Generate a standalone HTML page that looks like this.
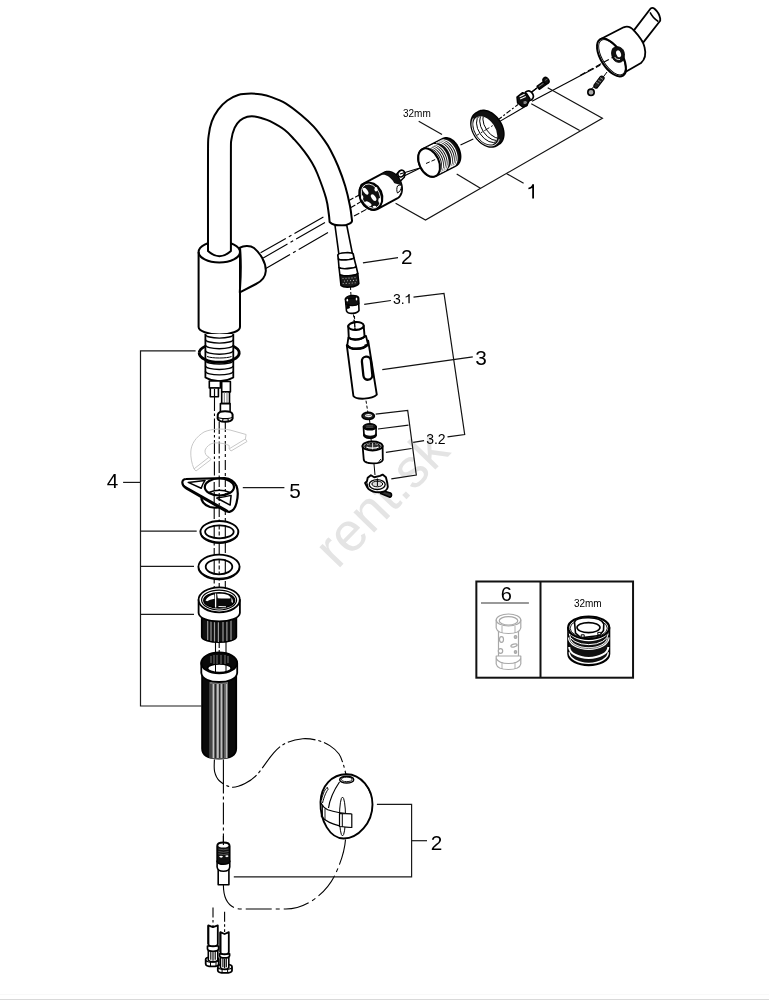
<!DOCTYPE html>
<html><head><meta charset="utf-8">
<style>
html,body{margin:0;padding:0;background:#fff;}
body{width:769px;height:1000px;overflow:hidden;position:relative;}
svg{position:absolute;left:0;top:0;will-change:transform;}
text{font-family:"Liberation Sans",sans-serif;}
</style></head><body>
<svg width="769" height="1000" viewBox="0 0 769 1000">
<g id="wm">
<text x="0" y="0" transform="translate(337.6,570) rotate(-45.8)" font-size="54.5" fill="#e4e4e4">rent.sk</text>
</g>
<rect x="0" y="999" width="769" height="1" fill="#d9d9d9"/>
<rect x="0" y="994" width="769" height="1" fill="#f9f9f9"/>

<!-- ============ BODY ============ -->
<g fill="#fff" stroke="#000" stroke-width="2" stroke-linejoin="round">
<path d="M198.6,252 L198.6,327 C198.6,331 208,334.5 219.3,334.5 C231,334.5 240,331 240,327 L240,252 A20.7,10.5 0 0 0 198.6,252 Z"/>
<path fill="none" d="M198.6,252 A20.7,10.5 0 0 0 240,252"/>
<path d="M240,247.6 C243,246 250,245 254,248 C260,253 266,262 265.8,271 C265.5,277 262,281 256,284 L239.8,292.4 C240,285 242,270 240,247.6 Z"/>
</g>
<!-- GEN_SPOUT_START -->
<path d="M208,251 L208,240 C208.00,225.83 207.90,172.33 208.00,155.00 C208.10,137.67 207.97,141.60 208.60,136.00 C209.23,130.40 210.20,125.80 211.80,121.40 C213.40,117.00 215.62,113.08 218.20,109.60 C220.78,106.12 223.97,102.93 227.30,100.50 C230.63,98.07 234.25,96.15 238.20,95.00 C242.15,93.85 247.05,93.67 251.00,93.60 C254.95,93.53 258.73,94.10 261.90,94.60 C265.07,95.10 266.05,95.15 270.00,96.60 C273.95,98.05 280.40,100.23 285.60,103.30 C290.80,106.37 296.52,111.10 301.20,115.00 C305.88,118.90 309.80,122.42 313.70,126.70 C317.60,130.98 321.82,136.82 324.60,140.70 C327.38,144.58 328.17,145.78 330.40,150.00 C332.63,154.22 335.53,160.00 338.00,166.00 C340.47,172.00 343.20,179.33 345.20,186.00 C347.20,192.67 348.87,200.27 350.00,206.00 C351.13,211.73 351.67,218.00 352.00,220.40 C352.3,223 347,225.6 342,225.6 C337,225.6 332,224.5 329.6,222 L329.6,222 C329.47,220.67 329.40,218.00 328.80,214.00 C328.20,210.00 327.92,204.75 326.00,198.00 C324.08,191.25 319.73,179.53 317.30,173.50 C314.87,167.47 313.57,165.48 311.40,161.80 C309.23,158.12 307.12,155.08 304.30,151.40 C301.48,147.72 297.76,143.27 294.50,139.70 C291.24,136.13 288.83,133.08 284.75,130.00 C280.67,126.92 273.81,123.17 270.00,121.20 C266.19,119.23 264.47,119.00 261.90,118.20 C259.33,117.40 257.03,116.63 254.60,116.40 C252.17,116.17 249.73,116.12 247.30,116.80 C244.87,117.48 242.12,118.67 240.00,120.50 C237.88,122.33 236.03,124.62 234.60,127.80 C233.17,130.98 232.02,135.07 231.40,139.60 C230.78,144.13 230.98,138.27 230.90,155.00 C230.82,171.73 230.90,225.83 230.90,240.00 L230.9,251 Q219.45,261.5 208,251 Z" fill="#fff" stroke="#000" stroke-width="2" stroke-linejoin="round"/>
<!-- GEN_SPOUT_END -->
<!-- ============ STEM / THREADS ============ -->
<g fill="#fff" stroke="#000" stroke-width="1.8" stroke-linejoin="round">
<path d="M205.4,334 L205.4,377.5 Q219.3,385 233.3,377.5 L233.3,334"/>
</g>
<g fill="none" stroke="#000" stroke-width="1.4">
<path d="M205.4,334.4 A13.95,3.7 0 0 0 233.3,334.4"/>
<path d="M205.4,339.4 A13.95,3.7 0 0 0 233.3,339.4"/>
<path d="M205.4,345.0 A13.95,3.7 0 0 0 233.3,345.0"/>
<path d="M205.4,350.5 A13.95,3.7 0 0 0 233.3,350.5"/>
<path d="M205.4,360.4 A13.95,3.7 0 0 0 233.3,360.4"/>
<path d="M205.4,365.8 A13.95,3.7 0 0 0 233.3,365.8"/>
<path d="M205.4,371.2 A13.95,3.7 0 0 0 233.3,371.2"/>
</g>
<path d="M199.2,352.9 A20,9.4 0 0 0 239.2,352.9" fill="none" stroke="#000" stroke-width="2.9"/>
<path d="M199.2,352.9 A20,9.4 0 0 1 205.4,346.2 M233.3,346.2 A20,9.4 0 0 1 239.2,352.9" fill="none" stroke="#000" stroke-width="2.7"/>
<path d="M207,356.5 C212,358.5 227,358.5 231.5,356.5" fill="none" stroke="#000" stroke-width="1"/>
<!-- pipes below stem -->
<g fill="#fff" stroke="#000" stroke-width="1.6" stroke-linejoin="round">
<rect x="209.3" y="381" width="11.1" height="7"/>
<rect x="210.3" y="388" width="8.1" height="8.8"/>
<line x1="214.5" y1="389" x2="214.5" y2="396.8" stroke-width="1.2"/>
<rect x="221.7" y="381.5" width="8.7" height="10.4"/>
<rect x="221.7" y="391.9" width="7.8" height="11.7"/>
<line x1="224.3" y1="392" x2="224.3" y2="403.5" stroke="#777" stroke-width="1"/>
<line x1="227" y1="392" x2="227" y2="403.5" stroke="#777" stroke-width="1"/>
<path d="M220.4,403.6 L230.1,403.6 L230.1,412.5 C228,413.5 222.5,413.5 220.4,412.5 Z"/>
<path d="M217.8,414.5 C218.5,412 222,411.3 225,411.3 C228.5,411.3 232,412 232.6,414.5 L232.6,418.5 C232,421 228.5,421.8 225,421.8 C221.5,421.8 218.3,421 217.6,418.5 Z" stroke-width="2"/>
<path d="M218.3,417.3 C220,419 230,419 232,417.3 M223,418.8 L222.5,421.5 M228,418.6 L228.3,421.3" fill="none" stroke-width="1.1"/>
</g>
<!-- dash lines down the column -->
<g fill="none" stroke="#000" stroke-width="1.1">
<line x1="214.5" y1="397" x2="214.4" y2="478" stroke-dasharray="14,2.5,2.5,2.5"/>
<line x1="219.2" y1="422" x2="219.2" y2="478" stroke-dasharray="12,2.5,2.5,2.5"/>
<line x1="225.3" y1="422" x2="225.3" y2="478" stroke-dasharray="10,3,3,3"/>
<line x1="214.2" y1="505" x2="214.2" y2="600" stroke-dasharray="14,2.5,2.5,2.5"/>
<line x1="219.2" y1="505" x2="219.2" y2="600" stroke-dasharray="12,2.5,2.5,2.5"/>
<line x1="225.3" y1="505" x2="225.3" y2="600" stroke-dasharray="10,3,3,3"/>
<line x1="215.5" y1="642" x2="215.5" y2="664"/>
<line x1="219.2" y1="642" x2="219.2" y2="664" stroke-dasharray="6,2,2,2"/>
<line x1="226" y1="642" x2="226" y2="664"/>
</g>

<!-- rotation arrow (gray) -->
<g fill="none" stroke="#c8c8c8" stroke-width="1" stroke-linejoin="round">
<path d="M190.8,452 C191,444 196,437 204,432 C212,428.5 222,428.5 230,430 L246.1,434.5 L245.4,439 L229.2,448.8 L229.2,445.5 C226,444 221,442.5 214.2,442.9 C210,443.5 206.5,446.5 205.1,450 C204.5,453 206,456 209,457.2 L194,468.9 C191.5,463 190.6,457 190.8,452 Z"/>
<path d="M194,468.9 L196,471 L211,459.5 L209,457.2 M229.2,448.8 L231,451 L247,441.5 L245.4,439" fill="none"/>
</g>

<!-- ============ PART 5 PLATE ============ -->
<g stroke="#000" stroke-width="2.2" stroke-linejoin="round">
<path fill="#fff" d="M201.2,496 C201,501 204,505 210,507 C214,508 218,508 222,507 L222,496 Z" />
<path fill="#fff" d="M182.4,483 C182,480.5 184,479 186,479 L224.6,478.1 C230,478.5 234,481 236.5,486 C238,490 238,497 236.5,503 C235.5,507 233.5,511 229.5,511.8 C228,512 226.5,511.5 225,510.8 L186.5,488.5 C184,487 182.5,485 182.4,483 Z"/>
<path fill="none" d="M183.8,485.8 L228,510.8" stroke-width="1.5"/>
<ellipse cx="219.4" cy="487" rx="14.6" ry="8.5" fill="#fff"/>
<path fill="none" d="M209,492.5 Q219.4,488 229.8,492.5" stroke-width="1.6"/>
<path fill="#fff" d="M188.2,482.4 L205.1,480.4 C203,483 202,486 201.2,488.2 Z" stroke-width="1.5"/>
<path fill="#fff" d="M216.8,498 C222,497.5 227,496.5 231.1,495.4 L230.1,505.1 Z" stroke-width="1.5"/>
</g>
<g fill="none" stroke="#000" stroke-width="1.1">
<line x1="214.2" y1="482" x2="214.2" y2="505" stroke-dasharray="8,2,2,2"/>
<line x1="219.2" y1="479" x2="219.2" y2="505" stroke-dasharray="8,2,2,2"/>
<line x1="225.3" y1="479" x2="225.3" y2="495" stroke-dasharray="8,2,2,2"/>
</g>

<!-- ============ RINGS ============ -->
<g stroke="#000" fill="#fff" stroke-linejoin="round">
<ellipse cx="219.4" cy="532" rx="19" ry="11" stroke-width="1.8"/>
<path d="M200.4,531 A19,11 0 0 0 238.4,531" fill="none" stroke-width="1.2"/>
<ellipse cx="219.4" cy="531.8" rx="14.3" ry="6.5" stroke-width="1.8"/>
<ellipse cx="219" cy="567" rx="20.6" ry="12.4" stroke-width="1.8"/>
<path d="M198.4,566 A20.6,12.4 0 0 0 239.6,566" fill="none" stroke-width="1.2"/>
<ellipse cx="219" cy="566.8" rx="13.3" ry="7.5" stroke-width="1.8"/>
</g>
<g fill="none" stroke="#000" stroke-width="1.1">
<line x1="214.2" y1="525.5" x2="214.2" y2="538"/>
<line x1="219.2" y1="525.5" x2="219.2" y2="538" stroke-dasharray="4,2"/>
<line x1="225.3" y1="525.5" x2="225.3" y2="538"/>
<line x1="214.2" y1="559.5" x2="214.2" y2="574"/>
<line x1="219.2" y1="559.5" x2="219.2" y2="574" stroke-dasharray="4,2"/>
<line x1="225.3" y1="559.5" x2="225.3" y2="574"/>
</g>

<!-- ============ NUT ============ -->
<g stroke="#000" stroke-linejoin="round">
<path d="M201.8,614 L201.8,637 C202,640 210,642.2 219,642.2 C228,642.2 236,640 236.3,637 L236.3,614 Z" fill="#111" stroke-width="1.8"/>
<g stroke="#9a9a9a" stroke-width="1.2">
<line x1="207.7" y1="620" x2="207.7" y2="640"/><line x1="211" y1="620" x2="211" y2="641"/>
<line x1="214.5" y1="621" x2="214.5" y2="641.5"/><line x1="218.4" y1="621" x2="218.4" y2="642"/>
<line x1="223" y1="621" x2="223" y2="641.5"/><line x1="226.9" y1="620" x2="226.9" y2="641"/>
<line x1="231" y1="620" x2="231" y2="640"/>
</g>
<path d="M198.6,599.8 L198.6,613 C199,618 208,621.4 219.2,621.4 C230,621.4 239.5,618 239.9,613 L239.9,599.8 Z" fill="#fff" stroke-width="1.8"/>
<ellipse cx="219.2" cy="599.8" rx="20.6" ry="12.5" fill="#fff" stroke-width="1.8"/>
<ellipse cx="219.1" cy="600.1" rx="17.5" ry="9.9" fill="none" stroke-width="1.2"/>
<ellipse cx="219.2" cy="600.4" rx="15.4" ry="7.6" fill="#0a0a0a" stroke-width="1.5"/>
<path d="M205.5,600.5 C207,597.5 210.5,595.3 214.2,594.6 L214.5,598.8 C211.5,599.2 209,600.2 207.2,601.3 Z" fill="#fff" stroke="none"/>
<path d="M217.1,593.8 C221,593.5 225.5,594 228,595 C229.5,595.8 230.5,597 230.6,598.2 C228,598.6 222,598.5 217.8,598.3 Z" fill="#fff" stroke="none"/>
<path d="M231.5,597.5 C232.5,599 233,601 232.8,603 L231.5,602 Z" fill="#fff" stroke="none"/>
<line x1="215.6" y1="593.5" x2="215.6" y2="607.5" stroke="#fff" stroke-width="1.3"/>
<path d="M218.5,606.5 L226,606.8" stroke="#fff" stroke-width="1"/>
</g>

<!-- ============ SLEEVE ============ -->
<g stroke="#000" stroke-linejoin="round">
<path d="M202.1,668 L202.1,748.5 C202.1,755 208,758.6 219,758.6 C230,758.6 236.2,755 236.2,748.5 L236.2,668 Z" fill="#0a0a0a" stroke-width="1.8"/>
<g>
<path d="M209.5,682 L228,682 L228,758.3 C223,759 214,759 209.5,758.3 Z" fill="#6e6e6e" stroke="none"/>
<g stroke-width="1">
<line x1="213.4" y1="684" x2="213.4" y2="758" stroke="#cfcfcf"/>
<line x1="217.9" y1="684" x2="217.9" y2="758" stroke="#f4f4f4"/>
<line x1="221.2" y1="684" x2="221.2" y2="758" stroke="#e0e0e0"/>
<line x1="226.5" y1="684" x2="226.5" y2="758" stroke="#bdbdbd"/>
</g>
<g stroke-width="1.1" stroke="#222">
<line x1="211" y1="684" x2="211" y2="758"/>
<line x1="215.4" y1="684" x2="215.4" y2="758"/>
<line x1="219.7" y1="684" x2="219.7" y2="758"/>
<line x1="223.6" y1="684" x2="223.6" y2="758"/>
</g>
</g>
<path d="M201.3,662.9 L201.3,673 C202,679 210,682 219.2,682 C228,682 236.5,679 237.2,673 L237.2,662.9 Z" fill="#fff" stroke-width="1.8"/>
<ellipse cx="219.2" cy="662.9" rx="17.95" ry="10.5" fill="#0a0a0a" stroke-width="1.8"/>
<ellipse cx="219.4" cy="668.2" rx="11.8" ry="4.2" fill="#fff" stroke-width="1.5"/>
<g stroke="#777" stroke-width="1"><line x1="211" y1="656" x2="211" y2="663"/><line x1="214" y1="655" x2="214" y2="664"/><line x1="217" y1="655" x2="217" y2="664"/><line x1="221" y1="655" x2="221" y2="664"/><line x1="225" y1="655" x2="225" y2="664"/><line x1="228" y1="656" x2="228" y2="663"/></g>
<line x1="215.5" y1="664" x2="215.5" y2="672" stroke-width="1"/>
<line x1="226" y1="664" x2="226" y2="672" stroke-width="1"/>
</g>


<!-- ============ LOWER HOSE ============ -->
<g fill="none" stroke="#000" stroke-width="1.1">
<path d="M214.40,759.50 C214.43,761.52 213.73,768.02 214.60,771.60 C215.47,775.18 216.70,778.40 219.60,781.00 C222.50,783.60 227.77,786.78 232.00,787.20 C236.23,787.62 240.83,785.58 245.00,783.50 C249.17,781.42 252.22,779.80 257.00,774.70 C261.78,769.60 268.87,758.18 273.70,752.90 C278.53,747.62 281.15,745.37 286.00,743.00 C290.85,740.63 297.47,739.12 302.80,738.70 C308.13,738.28 313.50,739.35 318.00,740.50 C322.50,741.65 326.30,743.35 329.80,745.60 C333.30,747.85 336.75,750.88 339.00,754.00 C341.25,757.12 342.05,760.50 343.30,764.30 C344.55,768.10 345.97,774.72 346.50,776.80" stroke-dasharray="28,3,3,3"/>
<path d="M223.4,759.5 L223.4,842" stroke-dasharray="34,3,3,3,22,3,3,3"/>
<path d="M223.4,885 C223.4,898 229,909 241,909 L285.8,909 C305,909 325,895 335,875 C341,862 345,850 345.6,838" stroke-dasharray="26,4,4,4"/>
<line x1="213" y1="907.6" x2="213" y2="926" stroke-dasharray="10,2.5,2.5,2.5"/>
<line x1="224.6" y1="911.8" x2="224.6" y2="932" stroke-dasharray="10,2.5,2.5,2.5"/>
</g>
<!-- ball -->
<g stroke="#000" stroke-linejoin="round" fill="none">
<path d="M346.3,774.2 C361,774 372.5,789 372.5,804.5 C372.5,823 358,838.5 343.7,838.5 C330,838.5 320,821 320.5,802 C321,786 332,774.2 346.3,774.2 Z" fill="#fff" stroke-width="1.9"/>
<ellipse cx="346.7" cy="779.7" rx="7" ry="3.4" fill="#fff" stroke-width="1.5"/>
<ellipse cx="346.7" cy="779.4" rx="5.2" ry="2.2" stroke-width="0.9"/>
<path d="M339.5,782 C334,790 330,798 328.5,808" stroke-width="1.2"/>
<path d="M321.5,800 C323,793 325.5,788 327.5,787.5 L328,789.5 C326,792 324,797 322.5,803" stroke-width="1"/>
<path d="M320.9,803 C322.5,806 325,808.5 327.7,809.7 C335,812 343,813.3 351.3,814" stroke-width="1.2"/>
<path d="M320.9,815.6 C323,818.5 326,821 329.4,822.4 C332.5,824 336,825 339.5,825.8 L351.3,827.5" stroke-width="1.2"/>
<path d="M322.5,806 L322.5,817 M325,808.5 L325,820" stroke-width="0.9"/>
<ellipse cx="342.5" cy="816.5" rx="3" ry="19.4" stroke-width="1"/>
<path d="M339.5,813.5 L351.8,814 L351.8,827.5 L339.5,826.5 Z" fill="#fff" stroke-width="1.2"/>
<path d="M339.5,813.5 L339.5,826.5 M342.3,813.7 L342.3,826.8" stroke-width="1"/>
<path d="M365.5,784.5 C368,788 369.5,791 370.5,794" stroke-width="0.9"/>
</g>
<!-- connector -->
<g stroke="#000" stroke-linejoin="round" stroke-width="1.6">
<rect x="218.2" y="866" width="10.7" height="18.8" fill="#fff"/>
<path d="M217.1,861 L217.1,867 C217.5,870.5 220,871.3 223.4,871.3 C227,871.3 229.5,870.5 229.75,867 L229.75,861 Z" fill="#fff"/>
<path d="M217.1,846 C217.1,843.5 220,842.4 223.4,842.4 C227,842.4 229.75,843.5 229.75,846 L229.75,861.5 C229,863.5 226.5,864.3 223.4,864.3 C220.5,864.3 217.8,863.5 217.1,861.5 Z" fill="#111"/>
<ellipse cx="223.4" cy="845.5" rx="5" ry="2" fill="#fff" stroke="none"/>
<path d="M219,856.5 C220,855.5 222,855.5 223,856.5 C222.5,858 220,858 219,856.5 Z M225,856 C226.5,855 228,855 228.5,856 C228,857.5 226,857.5 225,856 Z" fill="#fff" stroke="none"/>
<g stroke="#777" stroke-width="0.7"><path d="M218.5,849 Q223.4,850.5 228.5,849"/><path d="M218.5,851.5 Q223.4,853 228.5,851.5"/><path d="M218.5,853.8 Q223.4,855.3 228.5,853.8"/></g>
<line x1="223.4" y1="836" x2="223.4" y2="845" stroke-width="1.1"/>
</g>
<!-- bottom hoses -->
<g stroke="#000" stroke-linejoin="round">
<path d="M205.7,959.3 C205.7,956.3 218.7,956.3 218.7,959.3 L218.7,963.9 C218.7,967.2 205.7,967.2 205.7,963.9 Z" fill="#fff" stroke-width="1.8"/>
<path d="M205.7,960.3 C207.7,962.8 216.7,962.8 218.7,960.3" fill="none" stroke-width="1.3"/>
<path d="M210.5,962.0 L210.5,966.4 M216.0,962.0 L216.0,966.4" fill="none" stroke-width="1"/>
<path d="M208.3,950.5 L208.3,960.3 C210.3,962.3 215.8,962.3 217.8,960.3 L217.8,950.5 Z" fill="#fff" stroke-width="1.6"/>
<path d="M210.8,951.5 L210.8,959.8 M213.0,952.0 L213.0,960.8 M215.2,951.5 L215.2,959.8" fill="none" stroke-width="1.1"/>
<path d="M207.5,946.0 L207.5,949.0 C208.3,952.0 217.8,952.0 218.6,949.0 L218.6,946.0 Z" fill="#fff" stroke-width="1.7"/>
<path d="M208.3,925.4 L213.0,927.2 Q217.8,925.4 217.8,925.4 L217.8,944.0 C217.8,947.0 208.3,947.0 208.3,944.0 Z" fill="#fff" stroke-width="1.8"/>
<path d="M208.3,925.4 L208.3,944.0" stroke-width="1.8"/>
<path d="M217.8,966.7 C217.8,963.7 232.0,963.7 232.0,966.7 L232.0,970.4 C232.0,973.7 217.8,973.7 217.8,970.4 Z" fill="#fff" stroke-width="1.8"/>
<path d="M217.8,967.7 C219.8,970.2 230.0,970.2 232.0,967.7" fill="none" stroke-width="1.3"/>
<path d="M222.1,969.4 L222.1,972.9 M227.6,969.4 L227.6,972.9" fill="none" stroke-width="1"/>
<path d="M220.4,957.2 L220.4,967.7 C222.4,969.7 226.8,969.7 228.8,967.7 L228.8,957.2 Z" fill="#fff" stroke-width="1.6"/>
<path d="M222.9,958.2 L222.9,967.2 M224.6,958.7 L224.6,968.2 M226.3,958.2 L226.3,967.2" fill="none" stroke-width="1.1"/>
<path d="M219.6,953.8 L219.6,955.7 C220.4,958.7 228.8,958.7 229.6,955.7 L229.6,953.8 Z" fill="#fff" stroke-width="1.7"/>
<path d="M220.4,932.2 L224.6,934.0 Q228.8,932.2 228.8,932.2 L228.8,952.0 C228.8,955.0 220.4,955.0 220.4,952.0 Z" fill="#fff" stroke-width="1.8"/>
<path d="M220.4,932.2 L220.4,952.0" stroke-width="1.8"/>
</g>
<!-- ============ LABEL LINES LEFT ============ -->
<g fill="none" stroke="#1a1a1a" stroke-width="1.2">
<path d="M195.6,350.8 L140.5,350.8 L140.5,706 L202,706"/>
<line x1="140.5" y1="531.1" x2="196.7" y2="531.1"/>
<line x1="140.5" y1="566.4" x2="194" y2="566.4"/>
<line x1="140.5" y1="614.4" x2="194" y2="614.4"/>
<line x1="123.1" y1="482.4" x2="140.5" y2="482.4"/>
<line x1="242.8" y1="487.6" x2="284.4" y2="487.6"/>
<path d="M376.9,804.3 L411.6,804.3 L411.6,876.9 L233.8,876.9"/>
<line x1="411.6" y1="840.7" x2="427" y2="840.7"/>
</g>
<g fill="#000" font-size="20.8">
<text x="106.8" y="488">4</text>
<text x="289.2" y="497.5">5</text>
<text x="430.8" y="849.9">2</text>
</g>


<!-- ============ HANDLE LINES ============ -->
<g fill="none" stroke="#000" stroke-width="1.1">
<line x1="260.6" y1="252.8" x2="323.4" y2="217" stroke-dasharray="29,3.5,3,3.5,80"/>
<line x1="263.2" y1="258" x2="325" y2="222.5" stroke-dasharray="28,3.5,3,3.5,80"/>
<line x1="265.8" y1="268.4" x2="328" y2="232.5" stroke-dasharray="28,3.5,3,3.5,80"/>
<line x1="349" y1="200.5" x2="360" y2="194.5" stroke-dasharray="5,2"/>
<line x1="351" y1="207.5" x2="362" y2="201" stroke-dasharray="5,2"/>
<line x1="354" y1="216" x2="367" y2="209" stroke-dasharray="6,2"/>
</g>

<!-- GEN_CART_START -->
<path d="M394.5,176.5 L399.2,171.2 C401.5,169.5 404.5,170.5 405,173.5 L404.3,177.3 L399.5,182 Z" fill="#fff" stroke="#000" stroke-width="1.5" stroke-linejoin="round"/>
<ellipse cx="401.2" cy="173.6" rx="3.6" ry="2.9" transform="rotate(-40 401.2 173.6)" fill="#fff" stroke="#000" stroke-width="1.5"/>
<line x1="404.6" y1="175.8" x2="420.8" y2="167.7" stroke="#000" stroke-width="1.1"/>
<path d="M384.20,172.55 L384.94,172.20 L385.73,171.93 L386.54,171.75 L387.38,171.65 L388.24,171.63 L389.11,171.71 L390.00,171.86 L390.88,172.11 L391.77,172.43 L392.65,172.83 L393.52,173.32 L394.37,173.87 L395.20,174.50 L396.00,175.20 L396.77,175.96 L397.50,176.78 L398.19,177.65 L398.83,178.58 L399.42,179.54 L399.96,180.54 L400.45,181.57 L400.87,182.63 L401.23,183.70 L401.52,184.79 L401.75,185.88 L401.91,186.96 L402.00,188.04 L402.02,189.10 L401.97,190.14 L401.85,191.15 L401.66,192.13 L401.41,193.06 L401.09,193.95 L400.70,194.79 L400.25,195.57 L399.75,196.29 L399.19,196.94 L398.57,197.52 L397.91,198.02 L397.20,198.45 L377.40,209.05 L376.66,209.40 L375.87,209.67 L375.06,209.85 L374.22,209.95 L373.36,209.97 L372.49,209.89 L371.60,209.74 L370.72,209.49 L369.83,209.17 L368.95,208.77 L368.08,208.28 L367.23,207.73 L366.40,207.10 L365.60,206.40 L364.83,205.64 L364.10,204.82 L363.41,203.95 L362.77,203.02 L362.18,202.06 L361.64,201.06 L361.15,200.03 L360.73,198.97 L360.37,197.90 L360.08,196.81 L359.85,195.72 L359.69,194.64 L359.60,193.56 L359.58,192.50 L359.63,191.46 L359.75,190.45 L359.94,189.47 L360.19,188.54 L360.51,187.65 L360.90,186.81 L361.35,186.03 L361.85,185.31 L362.41,184.66 L363.03,184.08 L363.69,183.58 L364.40,183.15 Z" fill="#fff" stroke="#000" stroke-width="1.9" stroke-linejoin="round"/>
<clipPath id="cclip"><path d="M375,160 L410,160 L410,187.5 L375,178 Z"/></clipPath>
<path d="M384.20,172.55 L384.94,172.20 L385.73,171.93 L386.54,171.75 L387.38,171.65 L388.24,171.63 L389.11,171.71 L390.00,171.86 L390.88,172.11 L391.77,172.43 L392.65,172.83 L393.52,173.32 L394.37,173.87 L395.20,174.50 L396.00,175.20 L396.77,175.96 L397.50,176.78 L398.19,177.65 L398.83,178.58 L399.42,179.54 L399.96,180.54 L400.45,181.57 L400.87,182.63 L401.23,183.70 L401.52,184.79 L401.75,185.88 L401.91,186.96 L402.00,188.04 L402.02,189.10 L401.97,190.14 L401.85,191.15 L401.66,192.13 L401.41,193.06 L401.09,193.95 L400.70,194.79 L400.25,195.57 L399.75,196.29 L399.19,196.94 L398.57,197.52 L397.91,198.02 L397.20,198.45 L391.66,201.42 L392.37,200.99 L393.03,200.49 L393.64,199.91 L394.20,199.26 L394.71,198.54 L395.16,197.76 L395.54,196.92 L395.86,196.03 L396.12,195.10 L396.31,194.12 L396.42,193.11 L396.47,192.07 L396.45,191.01 L396.36,189.93 L396.20,188.84 L395.98,187.75 L395.68,186.67 L395.32,185.60 L394.90,184.54 L394.42,183.51 L393.88,182.51 L393.29,181.54 L392.65,180.62 L391.96,179.75 L391.23,178.93 L390.46,178.17 L389.66,177.47 L388.83,176.84 L387.98,176.28 L387.11,175.80 L386.23,175.40 L385.34,175.07 L384.45,174.83 L383.57,174.67 L382.69,174.60 L381.83,174.62 L380.99,174.71 L380.18,174.90 L379.40,175.17 L378.65,175.51 Z" fill="#111" stroke="none" clip-path="url(#cclip)"/>
<path d="M397.5,186 C399.5,184.5 401.3,184.5 401.5,186.5 C401.3,189.5 399.5,192 397.5,193 C396.5,191 396.6,188 397.5,186 Z" fill="#fff" stroke="#000" stroke-width="1"/>
<path d="M361.5,184.5 L366,182.8 L369.8,182.6 L374,183.6 L377.8,186.5 L381,191 L382.4,196 L382.2,201.5 L380.5,206 L377,209 L372.5,209.8 L368,208.5 L364,205.5 L360.8,200.8 L359.3,195.5 L359.5,189.5 Z" fill="#111" stroke="#000" stroke-width="1.8" stroke-linejoin="round"/>
<ellipse cx="370.90" cy="196.10" rx="8.90" ry="12.70" transform="rotate(-25 370.90 196.10)" fill="none" stroke="#fff" stroke-width="0.8"/>
<ellipse cx="365.6" cy="191.2" rx="2" ry="4" transform="rotate(-35 365.6 191.2)" fill="#fff"/>
<ellipse cx="373.6" cy="197.6" rx="2" ry="3.8" transform="rotate(-35 373.6 197.6)" fill="#fff"/>
<ellipse cx="368.2" cy="203.8" rx="1.8" ry="3.6" transform="rotate(-60 368.2 203.8)" fill="#fff"/>
<ellipse cx="376" cy="189.3" rx="1.5" ry="2.2" fill="#fff"/>
<ellipse cx="379.6" cy="200.5" rx="1.3" ry="2.4" fill="#fff"/>
<ellipse cx="362.2" cy="197.5" rx="1.1" ry="2.2" fill="#fff"/>
<ellipse cx="374.5" cy="206.8" rx="1.8" ry="1.1" fill="#fff"/>
<!-- GEN_CART_END -->
<!-- GEN_SLEEVE_START -->
<path d="M443.05,138.61 L443.75,138.30 L444.49,138.08 L445.27,137.94 L446.06,137.89 L446.89,137.93 L447.72,138.05 L448.57,138.26 L449.43,138.56 L450.28,138.94 L451.14,139.40 L451.98,139.94 L452.81,140.55 L453.62,141.24 L454.40,141.99 L455.15,142.81 L455.87,143.68 L456.56,144.60 L457.19,145.58 L457.78,146.59 L458.33,147.63 L458.81,148.70 L459.24,149.80 L459.61,150.90 L459.92,152.02 L460.17,153.13 L460.35,154.24 L460.46,155.34 L460.51,156.41 L460.49,157.46 L460.40,158.48 L460.25,159.46 L460.03,160.39 L459.75,161.27 L459.40,162.09 L458.99,162.85 L458.53,163.55 L458.01,164.17 L457.44,164.73 L456.82,165.20 L456.15,165.59 L435.65,176.09 L434.95,176.40 L434.21,176.62 L433.43,176.76 L432.64,176.81 L431.81,176.77 L430.98,176.65 L430.13,176.44 L429.27,176.14 L428.42,175.76 L427.56,175.30 L426.72,174.76 L425.89,174.15 L425.08,173.46 L424.30,172.71 L423.55,171.89 L422.83,171.02 L422.14,170.10 L421.51,169.12 L420.92,168.11 L420.37,167.07 L419.89,166.00 L419.46,164.90 L419.09,163.80 L418.78,162.68 L418.53,161.57 L418.35,160.46 L418.24,159.36 L418.19,158.29 L418.21,157.24 L418.30,156.22 L418.45,155.24 L418.67,154.31 L418.95,153.43 L419.30,152.61 L419.71,151.85 L420.17,151.15 L420.69,150.53 L421.26,149.97 L421.88,149.50 L422.55,149.11 Z" fill="#111" stroke="#000" stroke-width="1.8" stroke-linejoin="round"/>
<path d="M425.11,148.49 L426.01,148.33 L426.95,148.29 L427.92,148.38 L428.91,148.59 L429.91,148.92 L430.91,149.37 L431.90,149.93 L432.88,150.60 L433.84,151.38 L434.76,152.25 L435.64,153.21 L436.47,154.25 L437.24,155.35 L437.95,156.52 L438.59,157.74 L439.15,159.00 L439.63,160.28 L440.03,161.58 L440.34,162.89 L440.56,164.19 L440.68,165.46 L440.71,166.71 L440.64,167.92 L440.48,169.07 L440.23,170.17 L439.88,171.19 L439.45,172.12 L438.94,172.97 L438.34,173.72 L437.67,174.37" fill="none" stroke="#fff" stroke-width="1.1"/>
<path d="M426.95,147.54 L427.85,147.38 L428.80,147.35 L429.76,147.43 L430.75,147.64 L431.75,147.98 L432.76,148.42 L433.75,148.99 L434.73,149.66 L435.68,150.43 L436.60,151.30 L437.48,152.26 L438.31,153.30 L439.09,154.41 L439.80,155.58 L440.43,156.79 L441.00,158.05 L441.48,159.34 L441.88,160.64 L442.18,161.94 L442.40,163.24 L442.52,164.52 L442.55,165.77 L442.49,166.97 L442.33,168.13 L442.07,169.22 L441.73,170.24 L441.30,171.18 L440.78,172.03 L440.19,172.78 L439.52,173.42" fill="none" stroke="#fff" stroke-width="1.1"/>
<path d="M428.80,146.60 L429.70,146.44 L430.64,146.40 L431.61,146.49 L432.60,146.70 L433.60,147.03 L434.60,147.48 L435.59,148.04 L436.57,148.71 L437.53,149.49 L438.45,150.36 L439.33,151.32 L440.16,152.36 L440.93,153.46 L441.64,154.63 L442.28,155.85 L442.84,157.11 L443.32,158.39 L443.72,159.69 L444.03,161.00 L444.25,162.30 L444.37,163.57 L444.40,164.82 L444.33,166.03 L444.17,167.18 L443.92,168.28 L443.57,169.30 L443.14,170.23 L442.63,171.08 L442.03,171.83 L441.36,172.48" fill="none" stroke="#fff" stroke-width="1.1"/>
<path d="M430.64,145.65 L431.54,145.49 L432.49,145.46 L433.45,145.54 L434.44,145.75 L435.44,146.09 L436.45,146.53 L437.44,147.10 L438.42,147.77 L439.37,148.54 L440.29,149.41 L441.17,150.37 L442.00,151.41 L442.78,152.52 L443.49,153.69 L444.12,154.90 L444.69,156.16 L445.17,157.45 L445.57,158.75 L445.87,160.05 L446.09,161.35 L446.21,162.63 L446.24,163.88 L446.18,165.08 L446.02,166.24 L445.76,167.33 L445.42,168.35 L444.99,169.29 L444.47,170.14 L443.88,170.89 L443.21,171.53" fill="none" stroke="#fff" stroke-width="1.1"/>
<path d="M432.49,144.71 L433.39,144.55 L434.33,144.51 L435.30,144.60 L436.29,144.81 L437.29,145.14 L438.29,145.59 L439.28,146.15 L440.26,146.82 L441.22,147.60 L442.14,148.47 L443.02,149.43 L443.85,150.47 L444.62,151.57 L445.33,152.74 L445.97,153.96 L446.53,155.22 L447.01,156.50 L447.41,157.80 L447.72,159.11 L447.94,160.41 L448.06,161.68 L448.09,162.93 L448.02,164.14 L447.86,165.29 L447.61,166.39 L447.26,167.41 L446.83,168.34 L446.32,169.19 L445.72,169.94 L445.05,170.59" fill="none" stroke="#fff" stroke-width="1.1"/>
<path d="M435.97,142.92 L436.87,142.76 L437.82,142.73 L438.78,142.81 L439.77,143.02 L440.77,143.36 L441.78,143.80 L442.77,144.37 L443.75,145.04 L444.70,145.81 L445.62,146.68 L446.50,147.64 L447.33,148.68 L448.11,149.79 L448.82,150.96 L449.45,152.17 L450.02,153.43 L450.50,154.72 L450.90,156.02 L451.20,157.32 L451.42,158.62 L451.54,159.90 L451.57,161.15 L451.51,162.35 L451.35,163.51 L451.09,164.60 L450.75,165.62 L450.32,166.56 L449.80,167.41 L449.21,168.16 L448.54,168.80" fill="none" stroke="#fff" stroke-width="1.1"/>
<path d="M437.82,141.98 L438.72,141.82 L439.66,141.78 L440.63,141.87 L441.62,142.08 L442.62,142.41 L443.62,142.86 L444.61,143.42 L445.59,144.09 L446.55,144.87 L447.47,145.74 L448.35,146.70 L449.18,147.74 L449.95,148.84 L450.66,150.01 L451.30,151.23 L451.86,152.49 L452.34,153.77 L452.74,155.07 L453.05,156.38 L453.27,157.68 L453.39,158.95 L453.42,160.20 L453.35,161.41 L453.19,162.56 L452.94,163.66 L452.59,164.68 L452.16,165.61 L451.65,166.46 L451.05,167.21 L450.38,167.86" fill="none" stroke="#fff" stroke-width="1.1"/>
<path d="M439.66,141.03 L440.56,140.87 L441.51,140.84 L442.47,140.92 L443.46,141.13 L444.46,141.47 L445.47,141.91 L446.46,142.48 L447.44,143.15 L448.39,143.92 L449.31,144.79 L450.19,145.75 L451.02,146.79 L451.80,147.90 L452.51,149.07 L453.14,150.28 L453.71,151.54 L454.19,152.83 L454.59,154.13 L454.89,155.43 L455.11,156.73 L455.23,158.01 L455.26,159.26 L455.20,160.46 L455.04,161.62 L454.78,162.71 L454.44,163.73 L454.01,164.67 L453.49,165.52 L452.90,166.27 L452.23,166.91" fill="none" stroke="#fff" stroke-width="1.1"/>
<path d="M441.51,140.09 L442.41,139.93 L443.35,139.89 L444.32,139.98 L445.31,140.19 L446.31,140.52 L447.31,140.97 L448.30,141.53 L449.28,142.20 L450.24,142.98 L451.16,143.85 L452.04,144.81 L452.87,145.85 L453.64,146.95 L454.35,148.12 L454.99,149.34 L455.55,150.60 L456.03,151.88 L456.43,153.18 L456.74,154.49 L456.96,155.79 L457.08,157.06 L457.11,158.31 L457.04,159.52 L456.88,160.67 L456.63,161.77 L456.28,162.79 L455.85,163.72 L455.34,164.57 L454.74,165.32 L454.07,165.97" fill="none" stroke="#fff" stroke-width="1.1"/>
<ellipse cx="429.10" cy="162.60" rx="9.80" ry="15.00" transform="rotate(-25 429.10 162.60)" fill="#fff" stroke="#000" stroke-width="2"/>
<line x1="400" y1="174" x2="419" y2="168.3" stroke="#000" stroke-width="1.1"/>
<line x1="426" y1="163.5" x2="437.4" y2="158.6" stroke="#000" stroke-width="1" stroke-dasharray="4,2"/>
<line x1="460.5" y1="145" x2="473.3" y2="139.1" stroke="#000" stroke-width="1.1"/>
<path d="M477.85,111.79 L478.76,111.28 L479.73,110.88 L480.75,110.58 L481.82,110.39 L482.93,110.31 L484.07,110.33 L485.24,110.47 L486.43,110.72 L487.64,111.07 L488.85,111.52 L490.05,112.08 L491.25,112.73 L492.43,113.48 L493.59,114.32 L494.72,115.25 L495.80,116.25 L496.85,117.32 L497.84,118.46 L498.77,119.66 L499.64,120.91 L500.44,122.21 L501.17,123.54 L501.82,124.89 L502.38,126.27 L502.87,127.66 L503.26,129.05 L503.56,130.43 L503.77,131.80 L503.88,133.14 L503.91,134.45 L503.83,135.73 L503.66,136.95 L503.40,138.12 L503.04,139.23 L502.60,140.27 L502.07,141.23 L501.45,142.11 L500.76,142.91 L499.99,143.61 L499.15,144.21 L496.95,145.61 L496.04,146.12 L495.07,146.52 L494.05,146.82 L492.98,147.01 L491.87,147.09 L490.73,147.07 L489.56,146.93 L488.37,146.68 L487.16,146.33 L485.95,145.88 L484.75,145.32 L483.55,144.67 L482.37,143.92 L481.21,143.08 L480.08,142.15 L479.00,141.15 L477.95,140.08 L476.96,138.94 L476.03,137.74 L475.16,136.49 L474.36,135.19 L473.63,133.86 L472.98,132.51 L472.42,131.13 L471.93,129.74 L471.54,128.35 L471.24,126.97 L471.03,125.60 L470.92,124.26 L470.89,122.95 L470.97,121.67 L471.14,120.45 L471.40,119.28 L471.76,118.17 L472.20,117.13 L472.73,116.17 L473.35,115.29 L474.04,114.49 L474.81,113.79 L475.65,113.19 Z" fill="#111" stroke="#000" stroke-width="1.5" stroke-linejoin="round"/>
<path d="M499.17,139.26 L498.84,140.31 L498.42,141.28 L497.91,142.17 L497.31,142.97 L496.64,143.69 L495.89,144.31 L495.08,144.84 L494.20,145.26 L493.26,145.58 L492.27,145.78 L491.24,145.88 L490.17,145.87 L489.06,145.75 L487.94,145.52 L486.80,145.18 L485.66,144.74 L484.52,144.20 L483.38,143.56 L482.26,142.82 L481.17,142.00 L480.11,141.09 L479.08,140.10 L478.11,139.05 L477.18,137.93 L476.32,136.76 L475.52,135.54 L474.79,134.28 L474.13,132.99 L473.56,131.68 L473.07,130.36 L472.67,129.04 L472.36,127.72 L472.14,126.41 L472.01,125.13 L471.98,123.88 L472.05,122.68 L472.21,121.52 L472.46,120.42 L472.80,119.39 L473.23,118.43" fill="none" stroke="#fff" stroke-width="0.9"/>
<clipPath id="lnclip"><ellipse cx="485.30" cy="130.40" rx="9.9" ry="15.7" transform="rotate(-34 485.30 130.40)"/></clipPath>
<ellipse cx="485.30" cy="130.40" rx="9.9" ry="15.7" transform="rotate(-34 485.30 130.40)" fill="#fff" stroke="none"/>
<g clip-path="url(#lnclip)" fill="none" stroke="#000" stroke-width="0.9">
<ellipse cx="488.50" cy="128.40" rx="9.9" ry="15.7" transform="rotate(-34 488.50 128.40)"/>
<ellipse cx="491.70" cy="126.40" rx="9.9" ry="15.7" transform="rotate(-34 491.70 126.40)"/>
<ellipse cx="494.90" cy="124.40" rx="9.9" ry="15.7" transform="rotate(-34 494.90 124.40)"/>
<line x1="474" y1="137" x2="497" y2="123" stroke-dasharray="6,2,2,2"/>
</g>
<!-- GEN_SLEEVE_END -->
<g fill="none" stroke="#000" stroke-width="1.1">
<line x1="497.8" y1="120" x2="518" y2="104.5" stroke-dasharray="5,2,2,2"/>
<line x1="499.4" y1="121.6" x2="527.4" y2="105.2"/>
<line x1="532" y1="101.3" x2="594" y2="68.5"/>
<line x1="596" y1="67.5" x2="615" y2="56" stroke-dasharray="5,3"/>
<line x1="529" y1="94" x2="537" y2="88"/>
</g>
<!-- adapter -->
<g stroke="#000" stroke-linejoin="round">
<line x1="530.5" y1="93" x2="537.5" y2="87.5" stroke-width="1.1"/>
<path d="M525.5,92.2 C527.5,90.3 530.5,90.2 532.5,93.5 C534,96 534,98.2 531.2,100 L526.5,101.5 Z" fill="#fff" stroke-width="1.7"/>
<path d="M517,97.1 L522.6,92.7 L526.8,93.8 L530,99 L526.8,105.6 L522.6,107 L517.6,103 Z" fill="#111" stroke-width="1.5"/>
<path d="M519.6,96.8 L524.6,94.3 M520.2,99 L525.8,96.6" stroke="#fff" stroke-width="1.1"/>
<path d="M523.5,101.5 C525,100.5 527,101 527,102.5 C526.5,104 524.5,104.5 523.5,103.5 Z" fill="#888" stroke="none"/>
</g>
<!-- screw -->
<g stroke="#000" stroke-linejoin="round">
<path d="M537,86.2 L543.5,81.5 L546.3,84.5 L539.3,89.3 Z" fill="#111" stroke-width="1.4"/>
<line x1="538.8" y1="86.6" x2="543.5" y2="83.3" stroke="#999" stroke-width="0.8"/>
<ellipse cx="546" cy="80.6" rx="2.7" ry="3.4" transform="rotate(-40 546 80.6)" fill="#111" stroke-width="1.4"/>
<line x1="545" y1="80.5" x2="547.5" y2="79" stroke="#888" stroke-width="0.7"/>
</g>
<!-- ============ HANDLE (LEVER) ============ -->
<g stroke="#000" stroke-linejoin="round">
<path d="M633.7,30.6 L650.6,8.5 C652,7.6 653.5,8 654.5,8.8 C657,11 659.5,14.5 660.2,18.5 L660.2,20.8 L643.1,42.6 Z" fill="#fff" stroke-width="1.8"/>
<path d="M650.1,12.4 C651.5,15.5 654.5,19 658.3,21.5" fill="none" stroke-width="1.5"/>
<path d="M600.8,39 L623.6,27.3 C628,25.5 631,27 634,30.6 C638,35 643,40 644.5,47 C646,53 645.5,59 641,63 L618.4,76 Z" fill="#fff" stroke-width="1.8"/>
<ellipse cx="611.5" cy="57.5" rx="10.5" ry="21.4" transform="rotate(-32.5 611.5 57.5)" fill="#fff" stroke-width="2"/>
<ellipse cx="612" cy="57.3" rx="9.3" ry="20" transform="rotate(-32.5 612 57.3)" fill="none" stroke-width="0.9"/>
<path d="M612.5,49 C614.5,45.8 620,46 622.8,49.5 C625,52.5 625,58 622.3,61.2 C620,63 615.5,62.5 613.5,59.5 C611.5,56.5 611,52 612.5,49 Z" fill="#111" stroke-width="1"/>
<ellipse cx="618.6" cy="53.8" rx="2.3" ry="3.6" transform="rotate(-20 618.6 53.8)" fill="#fff" stroke="none"/>
<path d="M614,56 C615,58.5 617.5,60 620,59.5" fill="none" stroke="#fff" stroke-width="0.9"/>
<line x1="580" y1="75.4" x2="615" y2="56" stroke-width="1.1" stroke-dasharray="6,3"/>
</g>
<!-- spring & ball -->
<g stroke="#000" stroke-linejoin="round">
<path d="M594,85 L600,77 C602,75 605,77 604,79 L597.5,87.5 C596,89 593,87.5 594,85 Z" fill="#222" stroke-width="1.2"/>
<g stroke="#aaa" stroke-width="0.7"><line x1="596" y1="82" x2="599" y2="84"/><line x1="598" y1="80" x2="601" y2="82"/><line x1="600" y1="77.5" x2="603" y2="79.5"/></g>
<line x1="603.5" y1="76.7" x2="607" y2="72" stroke-width="1"/>
<line x1="591.5" y1="89" x2="594" y2="86.5" stroke-width="1"/>
<circle cx="591" cy="92.3" r="3.2" fill="#aaa" stroke-width="1.6"/>
</g>

<!-- ============ LABEL 1 BRACKET ============ -->
<g fill="none" stroke="#111" stroke-width="1.2">
<path d="M395.6,203.2 L425.5,220 L602.4,118.3 L547.7,87.8"/>
<line x1="456.7" y1="173.9" x2="480.4" y2="188.3"/>
<line x1="531.3" y1="103.7" x2="579.7" y2="130.5"/>
<line x1="506.4" y1="173.4" x2="523.6" y2="183.3"/>
<line x1="418.7" y1="121.2" x2="442" y2="134.5"/>
</g>
<g fill="#000">
<path d="M532.2,184.3 L534,184.3 L534,198.4 L532.2,198.4 Z M528.4,187.8 C530.3,187.5 531.6,186.4 532.3,184.3 L533.2,184.3 L533.2,186.6 C532,188.4 530.4,189.1 528.4,189.2 Z"/>
<text x="403" y="116.8" font-size="10">32mm</text>
</g>


<!-- ============ HOSE FROM SPOUT ============ -->
<g stroke="#000" stroke-linejoin="round">
<path d="M335,225.5 L338.9,254.3 L352.5,254 L346.8,225.5 Z" fill="#fff" stroke-width="1.6"/>
<path d="M337.8,255 C338.5,252.5 352,251.8 353.2,254 L354,258 C352,260 340,260.8 338.3,259 Z" fill="#fff" stroke-width="1.7"/>
<path d="M338.3,259 C340,260.8 352,260 354,258 L356.2,266.5 C354,268.8 341,269.5 339,267.5 Z" fill="#fff" stroke-width="1.6"/>
<path d="M339,267.5 C341,269.5 354,268.8 356.2,266.5 L357.8,273.5 C355.5,276 342,276.8 339.8,274.5 Z" fill="#fff" stroke-width="1.6"/>
<path d="M339.8,274.5 C342,276.8 355.5,276 357.8,273.5 L358.8,283.5 C356.5,287.5 344,288.3 341,285.5 Z" fill="#1c1c1c" stroke-width="1.6"/>
<g fill="#bbb" stroke="none">
<circle cx="343" cy="278.5" r="0.55"/><circle cx="346" cy="278.3" r="0.55"/><circle cx="349" cy="278.1" r="0.55"/><circle cx="352" cy="277.9" r="0.55"/><circle cx="355" cy="277.6" r="0.55"/>
<circle cx="344.5" cy="281" r="0.55"/><circle cx="347.5" cy="280.8" r="0.55"/><circle cx="350.5" cy="280.6" r="0.55"/><circle cx="353.5" cy="280.4" r="0.55"/><circle cx="356.3" cy="280.1" r="0.55"/>
<circle cx="343.2" cy="283.5" r="0.55"/><circle cx="346.2" cy="283.4" r="0.55"/><circle cx="349.2" cy="283.2" r="0.55"/><circle cx="352.2" cy="283" r="0.55"/><circle cx="355.2" cy="282.7" r="0.55"/>
</g>
<line x1="350.5" y1="287" x2="351" y2="296" stroke-width="1" stroke-dasharray="3,2"/>
</g>
<!-- part 3.1 -->
<g stroke="#000" stroke-linejoin="round">
<path d="M345.4,299 L346.5,311 C348,314.5 357,314 359,310.5 L358.5,298 Z" fill="#fff" stroke-width="1.6"/>
<ellipse cx="352" cy="298.5" rx="6.6" ry="3" transform="rotate(-5 352 298.5)" fill="#111" stroke-width="1.5"/>
<path d="M345.6,298.5 L346,304.2 C349,306.3 356,306.2 358.9,303.8 L358.5,298 Z" fill="#111" stroke-width="1.2"/>
<ellipse cx="347.3" cy="300.2" rx="0.8" ry="1.4" fill="#fff" stroke="none"/>
<ellipse cx="356.5" cy="299" rx="0.8" ry="1.6" fill="#fff" stroke="none"/>
<path d="M346.8,304.5 L349,304 L349.5,308 L347,308.5 Z" fill="#000" stroke-width="0.8"/>
<line x1="353.5" y1="314.5" x2="354.5" y2="323" stroke-width="1" stroke-dasharray="3,2"/>
</g>
<!-- sprayer -->
<g stroke="#000" stroke-linejoin="round">
<path d="M346.8,345.2 L353.4,396 C356,400 372,399.5 376.8,394.7 L368.2,340.8 Z" fill="#fff" stroke-width="1.9"/>
<path d="M348.4,337.5 L347.3,345.2 C350,349.8 362.5,350.3 368,344.3 L366,336 Z" fill="#fff" stroke-width="1.8"/>
<path d="M347.3,345.3 C350,349.9 362.5,350.4 368,344.3" fill="none" stroke-width="2.6"/>
<path d="M364.5,345.5 C365.5,344.5 366.8,344.6 367,345.8" fill="none" stroke-width="1.3"/>
<path d="M348.2,326 L348.8,337.8 C351.5,340.3 361,340.3 364.6,336.6 L363.7,326 Z" fill="#fff" stroke-width="1.9"/>
<path d="M348.8,337.8 C351.5,340.3 361,340.3 364.6,336.6" fill="none" stroke-width="2.2"/>
<ellipse cx="356" cy="326" rx="7.75" ry="3.9" transform="rotate(-4 356 326)" fill="#fff" stroke-width="2.1"/>
<line x1="354.5" y1="316" x2="355" y2="330" stroke-width="1" stroke-dasharray="3,2,6,1"/>
<rect x="362.6" y="356.6" width="9" height="23.2" rx="4.5" ry="4.5" transform="rotate(-6 367 368)" fill="#fff" stroke-width="2.3"/>
<line x1="366" y1="400.7" x2="367.8" y2="412" stroke-width="1" stroke-dasharray="3,2"/>
<line x1="354" y1="320" x2="355.2" y2="330" stroke-width="0.9"/>
</g>
<!-- washer -->
<g stroke="#000">
<ellipse cx="368.2" cy="415.9" rx="6.2" ry="3.6" fill="#222" stroke-width="1.6"/>
<ellipse cx="368.5" cy="415.6" rx="3.4" ry="1.7" fill="#fff" stroke="none"/>
<path d="M366,415.8 L371,415.4" stroke="#666" stroke-width="0.8"/>
<line x1="369.5" y1="419.6" x2="370" y2="424" stroke-width="1"/>
</g>
<!-- aerator insert -->
<g stroke="#000" stroke-linejoin="round">
<path d="M363.5,426.8 L364,435.5 C366,439 374.5,439 376,435.5 L376.1,426.8 Z" fill="#fff" stroke-width="1.7"/>
<path d="M364,434 C366,437 374.5,437 376,434 L376,435.8 C374.5,438.8 366,438.8 364,435.8 Z" fill="#111" stroke-width="1.2"/>
<ellipse cx="369.8" cy="426.8" rx="6.3" ry="3" fill="#1a1a1a" stroke-width="1.6"/>
<path d="M365.5,427.5 C367.5,429 372,429 374.5,427.5" fill="none" stroke="#000" stroke-width="1.5"/>
<g stroke="#777" stroke-width="0.6"><line x1="366.5" y1="425.8" x2="373" y2="425.8"/><line x1="366" y1="427.3" x2="373.5" y2="427.3"/></g>
<line x1="371" y1="438.8" x2="371.3" y2="441.5" stroke-width="1"/>
</g>
<!-- aerator housing -->
<g stroke="#000" stroke-linejoin="round">
<path d="M362.6,446 L363.8,460 C365,464.5 381,464.5 382.8,460 L382.6,446 Z" fill="#fff" stroke-width="1.8"/>
<ellipse cx="372.5" cy="446" rx="10" ry="4.5" fill="#fff" stroke-width="2"/>
<ellipse cx="372.5" cy="446.2" rx="7.8" ry="3.1" fill="#333" stroke-width="1"/>
<path d="M366.5,447 C368.5,448.5 376.5,448.5 378.5,447" fill="none" stroke="#fff" stroke-width="1.2"/>
<path d="M372.6,443 L372.6,449.3" stroke="#fff" stroke-width="0.8"/>
<path d="M367,444.5 L370,443.8 M375,443.8 L378,444.5" stroke="#aaa" stroke-width="0.9"/>
<path d="M366.5,461.5 C367.5,462.8 369,463.3 370,463.3 M378.5,461.8 C379.5,461 380.5,460 381,459" fill="none" stroke-width="1"/>
<line x1="374" y1="464" x2="375" y2="475" stroke-width="1"/>
</g>
<!-- key clip -->
<g stroke="#000" stroke-linejoin="round">
<path d="M380.5,490 L390.5,493 C392,494 392,496.5 390,497.3 L380.7,493.6 Z" fill="#333" stroke-width="1.6"/>
<path d="M367.7,477.8 L370.9,475.2 L374.2,477.2 L380,475.9 L382.6,474.6 L385.9,477.2 L387.2,482.4 L387.8,486.9 C387.5,490 384,492 380.5,492.2 C376,492.6 371,491 368.5,489 L367,486.9 L365.1,483 L367,481.1 Z" fill="#fff" stroke-width="1.9"/>
<ellipse cx="377.2" cy="484.6" rx="8" ry="4.9" fill="#fff" stroke-width="1.3"/>
<ellipse cx="377.3" cy="484" rx="5.4" ry="2.8" fill="#ddd" stroke-width="1"/>
<line x1="377.4" y1="478.5" x2="377.4" y2="486" stroke-width="1"/>
<path d="M366.5,481.5 L368,487.5" stroke-width="1.2"/>
</g>
<!-- ============ LABEL 2/3 TOP ============ -->
<g fill="none" stroke="#111" stroke-width="1.2">
<line x1="362.9" y1="262.8" x2="398" y2="257.6"/>
<line x1="364.2" y1="304.4" x2="390.9" y2="300.5"/>
<path d="M413.5,297.2 L444,293.3 L464.7,434.5 L447.5,436.8"/>
<line x1="382.3" y1="369.7" x2="472.8" y2="356.9"/>
<path d="M375.7,414.2 L407.7,410.3 L416.3,475 L391.3,478.9"/>
<line x1="378" y1="429" x2="408.5" y2="425.1"/>
<line x1="385.9" y1="452.4" x2="411.6" y2="448.5"/>
<line x1="413.2" y1="442.3" x2="424.1" y2="440.7"/>
</g>
<g fill="#000">
<text x="401" y="264" font-size="20.8">2</text>
<text x="475.3" y="365.2" font-size="20.8">3</text>
<text x="393" y="303.5" font-size="14">3.</text>
<path d="M408.4,293.9 L409.7,293.9 L409.7,303.2 L408.4,303.2 Z M405.6,296.4 C407,296.2 408,295.3 408.5,293.9 L409.2,293.9 L409.2,295.6 C408.4,296.8 407.2,297.3 405.6,297.4 Z"/>
<text x="426.2" y="443.8" font-size="14">3.2</text>
</g>

<!-- ============ BOX ============ -->
<g fill="none" stroke="#111" stroke-width="2">
<rect x="476.35" y="581.5" width="156.7" height="96.2"/>
<line x1="540.5" y1="581.5" x2="540.5" y2="677.7"/>
</g>
<line x1="481" y1="603" x2="528.9" y2="603" stroke="#777" stroke-width="1.6"/>
<text x="500.8" y="601.2" font-size="20" fill="#000">6</text>
<text x="573.9" y="607.3" font-size="10" fill="#000">32mm</text>
<!-- part 6 gray -->
<g stroke="#a8a8a8" fill="#fff" stroke-width="1.2" stroke-linejoin="round">
<path d="M498.5,630 L498.5,658 L518.5,658 L518.5,630 Z"/>
<path d="M496.2,656 L496.2,664 C497,668 503,669.5 508.5,669.5 C514,669.5 520,668 520.8,664 L520.8,656 Z"/>
<path d="M496.2,658.5 C498,662 503,663.5 508.5,663.5 C514,663.5 519,662 520.8,658.5" fill="none"/>
<path d="M496.2,620 L496.2,628 C497,632 503,633.5 508.5,633.5 C514,633.5 520,632 520.8,628 L520.8,620 Z"/>
<ellipse cx="508.5" cy="620" rx="12.3" ry="6" />
<ellipse cx="508.5" cy="620.8" rx="9.3" ry="4.2" />
<g fill="none" stroke-width="0.9"><line x1="502" y1="626" x2="502" y2="633"/><line x1="515" y1="626" x2="515" y2="633"/><line x1="502" y1="662" x2="502" y2="669"/><line x1="515" y1="662" x2="515" y2="669"/></g>
<ellipse cx="501.5" cy="639.5" rx="2" ry="2.8" fill="#fff"/>
<ellipse cx="515.5" cy="637" rx="1.3" ry="1.5" fill="#bbb"/>
<ellipse cx="514" cy="645.5" rx="3.2" ry="1.4" fill="#fff" transform="rotate(-15 514 645.5)"/>
<ellipse cx="500.5" cy="651" rx="2.2" ry="2.4" fill="#fff"/>
<ellipse cx="515.5" cy="652" rx="1.2" ry="1.4" fill="#bbb"/>
</g>
<!-- 32mm nut -->
<g stroke="#000" stroke-linejoin="round">
<path d="M568.2,627.7 L568.2,654 C568.5,661 578,665.2 588.7,665.2 C599.5,665.2 609,661 609.3,654 L609.3,627.7 Z" fill="#111" stroke-width="2"/>
<path d="M569.2,629.2 A19.5,11 0 0 0 608.3,629.2" stroke="#fff" stroke-width="2.0" fill="none"/>
<path d="M569.2,633.6 A19.5,11 0 0 0 608.3,633.6" stroke="#fff" stroke-width="1.0" fill="none"/>
<path d="M569.2,637.6 A19.5,11 0 0 0 608.3,637.6" stroke="#fff" stroke-width="2.6" fill="none"/>
<path d="M569.2,637.6 A19.5,11 0 0 0 608.3,637.6" stroke="#333" stroke-width="0.7" fill="none"/>
<path d="M569.2,646.9 A19.5,11 0 0 0 608.3,646.9" stroke="#fff" stroke-width="2.0" fill="none"/>
<path d="M569.2,652.3 A19.5,11 0 0 0 608.3,652.3" stroke="#fff" stroke-width="1.4" fill="none"/>
<ellipse cx="588.7" cy="627.7" rx="20.55" ry="11.2" fill="#fff" stroke-width="2.2"/>
<ellipse cx="588.7" cy="628.2" rx="18.6" ry="9.6" fill="none" stroke-width="0.9"/>
<path d="M574.5,622 C576,618.5 582,617.6 589,617.8 C596,618 602,620 603.8,624 L603.5,630.5 L599.5,635.5 L581,637.8 L575.5,633 Z" fill="#fff" stroke-width="1.6"/>
<ellipse cx="588.5" cy="627.6" rx="11.5" ry="5" fill="#fff" stroke-width="1.6"/>
<rect x="581.2" y="634.8" width="3" height="2.4" fill="#fff" stroke-width="1"/>
<rect x="597.8" y="632.4" width="3" height="2.4" fill="#fff" stroke-width="1"/>
</g>
<!-- EXTRA -->
</svg>
</body></html>
